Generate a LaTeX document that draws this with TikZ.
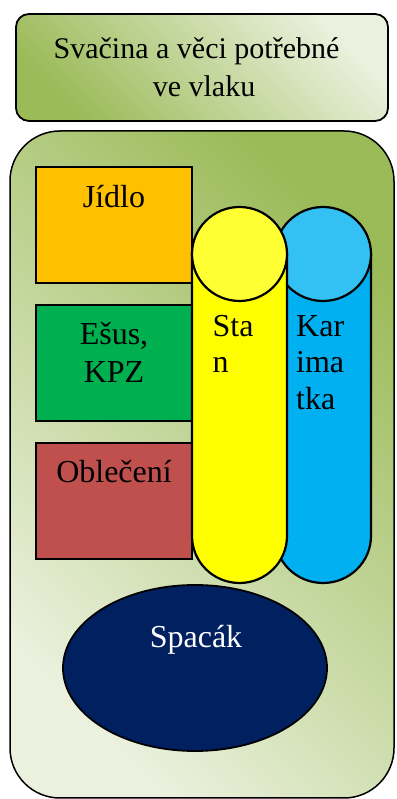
\documentclass[tikz,border=0pt]{standalone}
\usepackage{fontspec}
\setmainfont{Liberation Serif}
\usetikzlibrary{shapes.geometric}
\definecolor{gdark}{HTML}{9BBB59}
\definecolor{glight}{HTML}{EBF1DE}
\definecolor{cfood}{HTML}{FFC000}
\definecolor{cesus}{HTML}{00B050}
\definecolor{cobl}{HTML}{C0504D}
\definecolor{cstan}{HTML}{FFFF00}
\definecolor{cstantop}{HTML}{FFFF33}
\definecolor{ckar}{HTML}{00B0F0}
\definecolor{ckartop}{HTML}{33C0F3}
\definecolor{cspac}{HTML}{002060}
\tikzset{
  itembox/.style={draw=black, line width=2.2pt, rectangle, inner sep=0pt, minimum width=156pt, minimum height=116pt},
  lbl/.style={anchor=base, inner sep=0pt, font=\fontsize{32}{38}\selectfont},
  ttl/.style={anchor=base, inner sep=0pt, font=\fontsize{30}{37}\selectfont},
  cyl/.style={draw=black, line width=2.2pt},
}
\begin{document}
\begin{tikzpicture}[x=1pt,y=1pt]
\useasboundingbox (0,0) rectangle (396,799);
% title box
\shadedraw[line width=1.8pt, rounded corners=13pt, shading=axis, top color=glight, bottom color=gdark, shading angle=-45] (16,678) rectangle (388,785);
\node[ttl] (t1) at (196.5,740) {Svačina a věci potřebné};
\node[ttl] (t2) at (204,702) {ve vlaku};
% container
\shadedraw[line width=1.5pt, rounded corners=50pt, shading=axis, top color=gdark, bottom color=glight, shading angle=-45] (10,1) rectangle (394,668);
% boxes
\node[itembox, fill=cfood] (jidlo) at (114,574) {};
\node[lbl] (tj) at (114,591) {Jídlo};
\node[itembox, fill=cesus] (esus) at (114,436) {};
\node[lbl] (te1) at (114,454) {Ešus,};
\node[lbl] (te2) at (114,416) {KPZ};
\node[itembox, fill=cobl] (obl) at (114,298) {};
\node[lbl] (to) at (114,316) {Oblečení};
% karimatka cylinder
\filldraw[cyl, fill=ckar] (275,545) -- (275,263) arc[start angle=180, end angle=360, x radius=48, y radius=47] -- (371,545) -- cycle;
\filldraw[cyl, fill=ckartop] (323,545) ellipse[x radius=48, y radius=47];
\node[lbl, anchor=base west] (k1) at (296,462) {Kar};
\node[lbl, anchor=base west] (k2) at (296,426) {ima};
\node[lbl, anchor=base west] (k3) at (296,389) {tka};
% stan cylinder
\filldraw[cyl, fill=cstan] (192,545) -- (192,263) arc[start angle=180, end angle=360, x radius=47.5, y radius=47] -- (287,545) -- cycle;
\filldraw[cyl, fill=cstantop] (239.5,545) ellipse[x radius=47.5, y radius=47];
\node[lbl, anchor=base west] (s1) at (212.5,462) {Sta};
\node[lbl, anchor=base west] (s2) at (212.5,426) {n};
% spacak
\node[draw=black, line width=1.8pt, ellipse, fill=cspac, minimum width=264pt, minimum height=166pt, inner sep=0pt] (spac) at (195,131) {};
\node[lbl, text=white] (ts) at (196,151) {Spacák};
\end{tikzpicture}
\end{document}
